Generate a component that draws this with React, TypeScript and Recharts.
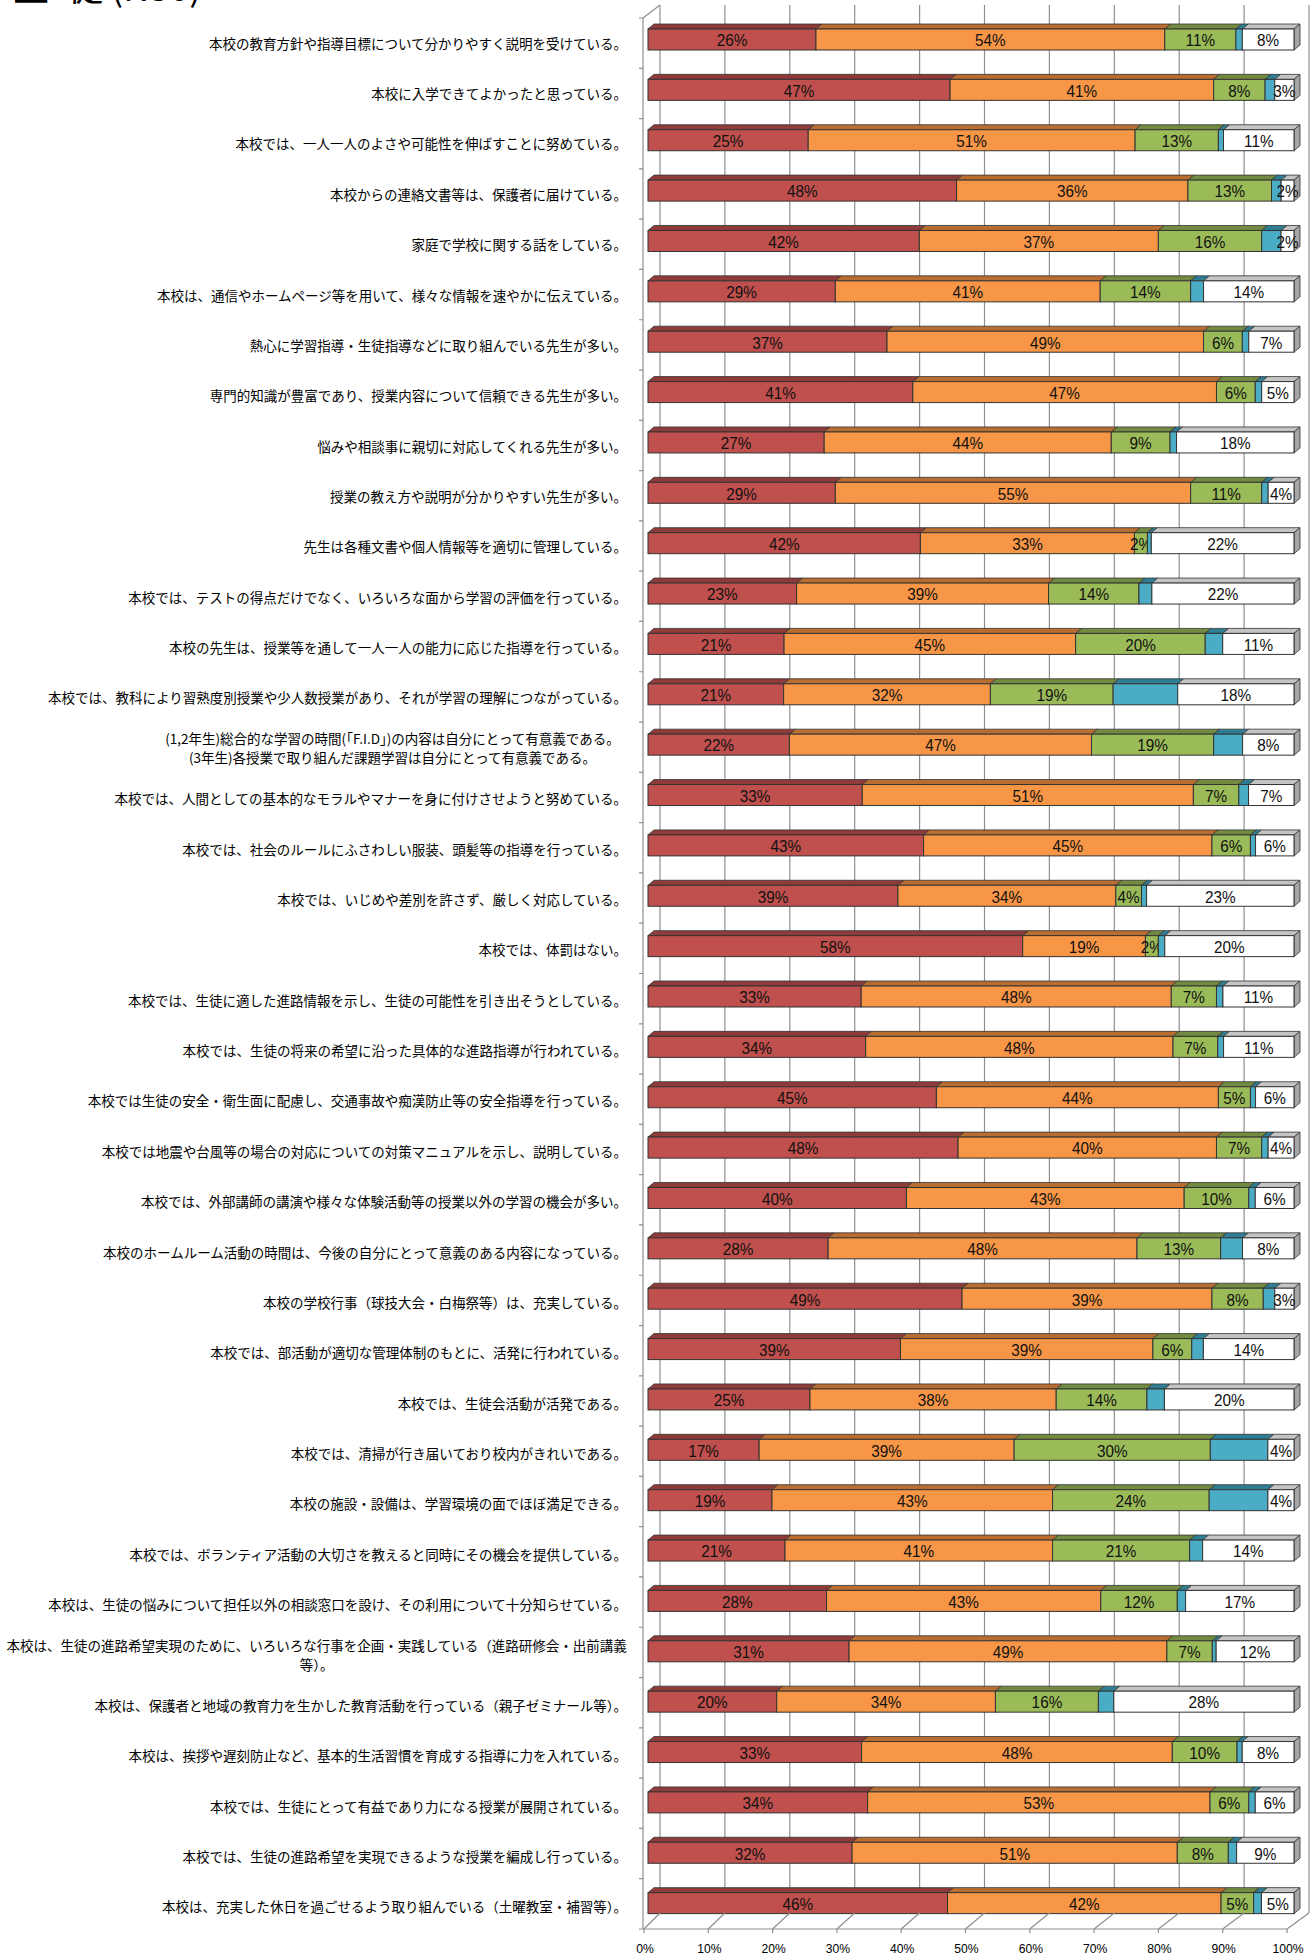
import React from 'react';
import { BarChart, Bar, XAxis, YAxis, CartesianGrid } from 'recharts';

const categories: string[] = [
  '本校の教育方針や指導目標について分かりやすく説明を受けている。',
  '本校に入学できてよかったと思っている。',
  '本校では、一人一人のよさや可能性を伸ばすことに努めている。',
  '本校からの連絡文書等は、保護者に届けている。',
  '家庭で学校に関する話をしている。',
  '本校は、通信やホームページ等を用いて、様々な情報を速やかに伝えている。',
  '熱心に学習指導・生徒指導などに取り組んでいる先生が多い。',
  '専門的知識が豊富であり、授業内容について信頼できる先生が多い。',
  '悩みや相談事に親切に対応してくれる先生が多い。',
  '授業の教え方や説明が分かりやすい先生が多い。',
  '先生は各種文書や個人情報等を適切に管理している。',
  '本校では、テストの得点だけでなく、いろいろな面から学習の評価を行っている。',
  '本校の先生は、授業等を通して一人一人の能力に応じた指導を行っている。',
  '本校では、教科により習熟度別授業や少人数授業があり、それが学習の理解につながっている。',
  '(1,2年生)総合的な学習の時間(「F.I.D」)の内容は自分にとって有意義である。\n(3年生)各授業で取り組んだ課題学習は自分にとって有意義である。',
  '本校では、人間としての基本的なモラルやマナーを身に付けさせようと努めている。',
  '本校では、社会のルールにふさわしい服装、頭髪等の指導を行っている。',
  '本校では、いじめや差別を許さず、厳しく対応している。',
  '本校では、体罰はない。',
  '本校では、生徒に適した進路情報を示し、生徒の可能性を引き出そうとしている。',
  '本校では、生徒の将来の希望に沿った具体的な進路指導が行われている。',
  '本校では生徒の安全・衛生面に配慮し、交通事故や痴漢防止等の安全指導を行っている。',
  '本校では地震や台風等の場合の対応についての対策マニュアルを示し、説明している。',
  '本校では、外部講師の講演や様々な体験活動等の授業以外の学習の機会が多い。',
  '本校のホームルーム活動の時間は、今後の自分にとって意義のある内容になっている。',
  '本校の学校行事（球技大会・白梅祭等）は、充実している。',
  '本校では、部活動が適切な管理体制のもとに、活発に行われている。',
  '本校では、生徒会活動が活発である。',
  '本校では、清掃が行き届いており校内がきれいである。',
  '本校の施設・設備は、学習環境の面でほぼ満足できる。',
  '本校では、ボランティア活動の大切さを教えると同時にその機会を提供している。',
  '本校は、生徒の悩みについて担任以外の相談窓口を設け、その利用について十分知らせている。',
  '本校は、生徒の進路希望実現のために、いろいろな行事を企画・実践している（進路研修会・出前講義\n等）。',
  '本校は、保護者と地域の教育力を生かした教育活動を行っている（親子ゼミナール等）。',
  '本校は、挨拶や遅刻防止など、基本的生活習慣を育成する指導に力を入れている。',
  '本校では、生徒にとって有益であり力になる授業が展開されている。',
  '本校では、生徒の進路希望を実現できるような授業を編成し行っている。',
  '本校は、充実した休日を過ごせるよう取り組んでいる（土曜教室・補習等）。',
];

const red = [26, 47, 25, 48, 42, 29, 37, 41, 27, 29, 42, 23, 21, 21, 22, 33, 43, 39, 58, 33, 34, 45, 48, 40, 28, 49, 39, 25, 17, 19, 21, 28, 31, 20, 33, 34, 32, 46];
const orange = [54, 41, 51, 36, 37, 41, 49, 47, 44, 55, 33, 39, 45, 32, 47, 51, 45, 34, 19, 48, 48, 44, 40, 43, 48, 39, 39, 38, 39, 43, 41, 43, 49, 34, 48, 53, 51, 42];
const green = [11, 8, 13, 13, 16, 14, 6, 6, 9, 11, 2, 14, 20, 19, 19, 7, 6, 4, 2, 7, 7, 5, 7, 10, 13, 8, 6, 14, 30, 24, 21, 12, 7, 16, 10, 6, 8, 5];
const blue = [1, 1.5, 0.8, 1.5, 3, 2, 1, 1, 1, 1, 0.6, 2, 2.7, 10, 4.5, 1.5, 0.8, 0.8, 1, 1, 0.9, 0.8, 1, 1, 3.4, 1.8, 1.8, 2.7, 8.8, 9, 2, 1.3, 0.6, 2.4, 0.8, 1, 1.3, 1.2];
const white = [8, 3, 11, 2, 2, 14, 7, 5, 18, 4, 22, 22, 11, 18, 8, 7, 6, 23, 20, 11, 11, 6, 4, 6, 8, 3, 14, 20, 4, 4, 14, 17, 12, 28, 8, 6, 9, 5];

const xTicks = [0, 0.1, 0.2, 0.3, 0.4, 0.5, 0.6, 0.7, 0.8, 0.9, 1];
const xTickLabels = ['0%', '10%', '20%', '30%', '40%', '50%', '60%', '70%', '80%', '90%', '100%'];
const titleText = '生\u2002徒 (N30)';

const data = categories.map((name, i) => ({
  name,
  s1: red[i],
  s2: orange[i],
  s3: green[i],
  s4: blue[i],
  s5: white[i],
}));

const W = 1312;
const H = 1955;
const PLOT_LEFT = 648;
const PLOT_WIDTH = 646;
const BACK_X0 = 660;
const BACK_W = 649;
const BACK_TOP = 5;
const BACK_BOTTOM = 1913;
const FRONT_X0 = 644;
const FRONT_W = 643;
const FRONT_TOP = 18;
const FRONT_BOTTOM = 1929;
const LABEL_RIGHT = 627;
const LABEL_FS = 13.5;
const CJK = '"Noto Sans CJK JP", sans-serif';
const DX = 6;
const DY = 5;
const EDGE = '#333333';
const GRID = '#8f8f8f';

let ctx: CanvasRenderingContext2D | null = null;
function measure(t: string): number {
  if (!ctx) ctx = document.createElement('canvas').getContext('2d');
  if (!ctx) return t.length * LABEL_FS;
  ctx.font = `${LABEL_FS}px "Noto Sans CJK JP"`;
  return ctx.measureText(t).width;
}

function make3D(key: string, front: string, top: string, side: string | null, showLabel: boolean) {
  return (props: any) => {
    const { x, y, width, height, payload } = props;
    if (!width || width <= 0 || !height) return <g />;
    const v = payload ? payload[key] : null;
    const cx = x + width / 2;
    const cy = y + height / 2;
    return (
      <g>
        <path
          d={`M${x},${y} L${x + DX},${y - DY} L${x + width + DX},${y - DY} L${x + width},${y} Z`}
          fill={top}
          stroke={EDGE}
          strokeWidth={0.8}
        />
        {side && (
          <path
            d={`M${x + width},${y} L${x + width + DX},${y - DY} L${x + width + DX},${y + height - DY} L${x + width},${y + height} Z`}
            fill={side}
            stroke={EDGE}
            strokeWidth={0.8}
          />
        )}
        <rect x={x} y={y} width={width} height={height} fill={front} stroke={EDGE} strokeWidth={1} />
        {showLabel && v != null && (
          <text
            transform={`translate(${cx},${cy + 0.5}) scale(0.9,1)`}
            x={0}
            y={0}
            textAnchor="middle"
            dominantBaseline="central"
            fontSize={17}
            fontFamily='"Liberation Sans", Arial, sans-serif'
            fill="#111"
          >
            {`${v}%`}
          </text>
        )}
      </g>
    );
  };
}

const renderYTick = (props: any) => {
  const { y, payload } = props;
  const lines = String(payload.value).split('\n');
  const cy = y + 3.5;
  if (lines.length === 1) {
    return (
      <text x={LABEL_RIGHT} y={cy} textAnchor="end" dominantBaseline="central" fontSize={LABEL_FS} fontFamily={CJK} fill="#000">
        {lines[0]}
      </text>
    );
  }
  const maxW = Math.max(...lines.map(measure));
  const cx = LABEL_RIGHT - maxW / 2;
  const lh = 18.7;
  return (
    <g>
      {lines.map((l, i) => (
        <text
          key={i}
          x={cx}
          y={cy + (i - (lines.length - 1) / 2) * lh}
          textAnchor="middle"
          dominantBaseline="central"
          fontSize={LABEL_FS}
          fontFamily={CJK}
          fill="#000"
        >
          {l}
        </text>
      ))}
    </g>
  );
};

const renderXTick = (props: any) => {
  const { payload, index } = props;
  const v = Number(payload.value);
  const fx = FRONT_X0 + FRONT_W * v;
  const bx = BACK_X0 + BACK_W * v;
  const label = xTickLabels[xTicks.indexOf(v)] ?? '';
  const n = categories.length;
  const wallTicks: string[] = [];
  if (v === 0) {
    for (let k = 0; k <= n; k++) {
      const yy = FRONT_TOP + ((FRONT_BOTTOM - FRONT_TOP) * k) / n;
      wallTicks.push(`M${FRONT_X0 - 5},${yy} L${FRONT_X0 - 1},${yy}`);
    }
  }
  return (
    <g key={`xt-${index}`}>
      <line x1={fx} y1={FRONT_BOTTOM} x2={bx} y2={BACK_BOTTOM} stroke={GRID} strokeWidth={1.2} />
      <line x1={fx} y1={FRONT_BOTTOM} x2={fx} y2={FRONT_BOTTOM + 4} stroke={GRID} strokeWidth={1.2} />
      {v === 0 && (
        <g>
          <line x1={FRONT_X0 - 1} y1={FRONT_TOP} x2={FRONT_X0 - 1} y2={FRONT_BOTTOM} stroke={GRID} strokeWidth={1.2} />
          <line x1={FRONT_X0 - 1} y1={FRONT_TOP} x2={BACK_X0} y2={BACK_TOP} stroke={GRID} strokeWidth={1.2} />
          <line x1={FRONT_X0 - 1} y1={FRONT_BOTTOM} x2={FRONT_X0 + FRONT_W} y2={FRONT_BOTTOM} stroke={GRID} strokeWidth={1.2} />
          <path d={wallTicks.join(' ')} stroke={GRID} strokeWidth={1.2} />
        </g>
      )}
      <text
        transform={`translate(${fx + 1},${1948}) scale(0.9,1)`}
        x={0}
        y={0}
        textAnchor="middle"
        dominantBaseline="central"
        fontSize={13.5}
        fontFamily='"Liberation Sans", Arial, sans-serif'
        fill="#000"
      >
        {label}
      </text>
    </g>
  );
};

const renderGridLine = (props: any) => {
  const { x1, key } = props;
  const v = (x1 - PLOT_LEFT) / PLOT_WIDTH;
  const bx = BACK_X0 + BACK_W * v;
  return <line key={key} x1={bx} x2={bx} y1={BACK_TOP} y2={BACK_BOTTOM} stroke={GRID} strokeWidth={1.2} />;
};

export default function App() {
  return (
    <div style={{ position: 'absolute', left: 0, top: 0, width: W, height: H, background: '#fff', overflow: 'hidden' }}>
      <svg width={W} height={40} style={{ position: 'absolute', left: 0, top: 0 }}>
        <text x={13} y={1} fontSize={36} fontFamily={CJK} fill="#000">
          {titleText}
        </text>
      </svg>
      <div style={{ position: 'absolute', left: 0, top: 0 }}>
        <BarChart
          width={W}
          height={H}
          data={data}
          layout="vertical"
          stackOffset="expand"
          margin={{ top: 14, right: 18, bottom: 0, left: 8 }}
          barSize={21}
        >
          <CartesianGrid horizontal={false} vertical={renderGridLine} />
          <XAxis
            type="number"
            domain={[0, 1]}
            ticks={xTicks}
            interval={0}
            tick={renderXTick}
            axisLine={false}
            tickLine={false}
            height={27}
          />
          <YAxis
            type="category"
            dataKey="name"
            width={640}
            interval={0}
            tick={renderYTick}
            axisLine={false}
            tickLine={false}
          />
          <Bar dataKey="s1" stackId="a" isAnimationActive={false} fill="#C0504D" shape={make3D('s1', '#C0504D', '#8E3B39', null, true)} />
          <Bar dataKey="s2" stackId="a" isAnimationActive={false} fill="#F79646" shape={make3D('s2', '#F79646', '#B96D30', null, true)} />
          <Bar dataKey="s3" stackId="a" isAnimationActive={false} fill="#9BBB59" shape={make3D('s3', '#9BBB59', '#728B40', null, true)} />
          <Bar dataKey="s4" stackId="a" isAnimationActive={false} fill="#4BACC6" shape={make3D('s4', '#4BACC6', '#2E7F95', null, false)} />
          <Bar dataKey="s5" stackId="a" isAnimationActive={false} fill="#FFFFFF" shape={make3D('s5', '#FFFFFF', '#C4C4C4', '#A6A6A6', true)} />
        </BarChart>
      </div>
    </div>
  );
}
